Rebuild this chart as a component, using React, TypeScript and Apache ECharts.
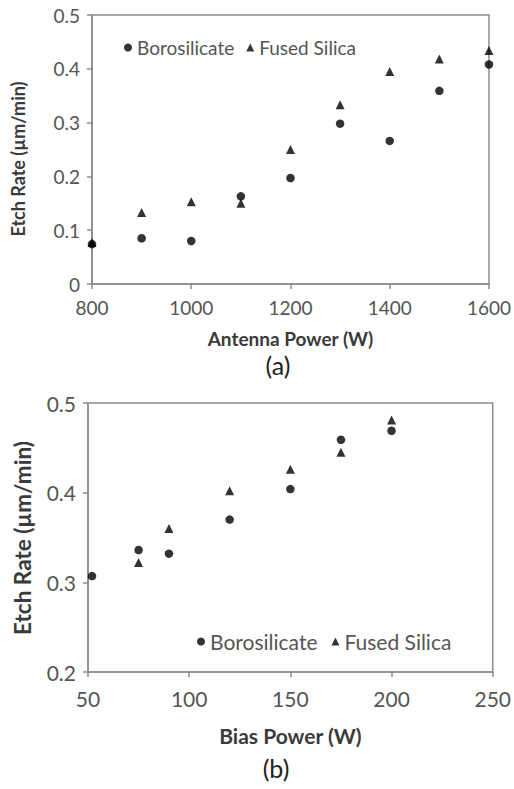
import React, { useEffect, useRef } from "react";
import * as echarts from "echarts";

// Panel (a): Antenna power sweep
const antennaPower = [800, 900, 1000, 1100, 1200, 1300, 1400, 1500, 1600];
const antennaBoro = [0.074, 0.085, 0.080, 0.163, 0.197, 0.298, 0.266, 0.359, 0.408];
const antennaFused = [0.077, 0.133, 0.153, 0.150, 0.250, 0.333, 0.395, 0.418, 0.434];

// Panel (b): Bias power sweep
const biasPowerBoro = [52, 75, 90, 120, 150, 175, 200];
const biasBoro = [0.307, 0.336, 0.332, 0.370, 0.404, 0.459, 0.469];
const biasPowerFused = [75, 90, 120, 150, 175, 200];
const biasFused = [0.322, 0.360, 0.402, 0.426, 0.445, 0.481];

const yTitle = "Etch Rate (µm/min)";

const FONT = "Lato";
const TXT = "#555555";
const TITLE = "#3a3a3a";
const AX = "#8c8c8c";

const pairs = (xs: number[], ys: number[]) => xs.map((x, i) => [x, ys[i]]);

export default function App() {
  const ref = useRef<HTMLDivElement>(null);
  useEffect(() => {
    const chart = echarts.init(ref.current!, undefined, { renderer: "svg" });
    const axisCommon = {
      axisLine: { show: true, lineStyle: { color: AX, width: 1.5 } },
      axisTick: { show: true, inside: false, length: 5, lineStyle: { color: AX, width: 1.5 } },
      splitLine: { show: false },
      nameLocation: "middle" as const,
    };
    const label = (fs: number, margin: number, digits?: number) => ({
      color: TXT, fontFamily: FONT, fontSize: fs, margin,
      formatter: (v: number) => (digits === undefined ? String(v) : v.toFixed(digits)),
    });
    const nameStyle = (fs: number) => ({ color: TITLE, fontFamily: FONT, fontSize: fs, fontWeight: "bold" });
    chart.setOption({
      animation: false,
      grid: [
        { left: 92, top: 15, width: 397, height: 269, show: true, borderColor: AX, borderWidth: 1.5, backgroundColor: "transparent" },
        { left: 88, top: 403, width: 409, height: 269, show: true, borderColor: AX, borderWidth: 1.5, backgroundColor: "transparent" },
      ],
      xAxis: [
        { type: "value", gridIndex: 0, min: 800, max: 1600, interval: 200, name: "Antenna Power (W)", nameGap: 45, ...axisCommon, axisLabel: label(19, 14), nameTextStyle: nameStyle(19) },
        { type: "value", gridIndex: 1, min: 50, max: 250, interval: 50, name: "Bias Power (W)", nameGap: 53, ...axisCommon, axisLabel: label(21, 16), nameTextStyle: nameStyle(21) },
      ],
      yAxis: [
        { type: "value", gridIndex: 0, min: 0, max: 0.5, interval: 0.1, ...axisCommon, axisLabel: label(19, 12) },
        { type: "value", gridIndex: 1, min: 0.2, max: 0.5, interval: 0.1, ...axisCommon, axisLabel: label(21, 12, 1) },
      ],
      legend: [
        {
          left: 119, top: 33, itemWidth: 8, itemHeight: 8, itemGap: 12,
          textStyle: { color: TXT, fontFamily: FONT, fontSize: 19 },
          data: [{ name: "Borosilicate", icon: "circle" }, { name: "Fused Silica", icon: "triangle" }],
        },
        {
          left: 192, top: 626, itemWidth: 8, itemHeight: 8, itemGap: 14,
          textStyle: { color: TXT, fontFamily: FONT, fontSize: 21 },
          data: [{ name: "Borosilicate", icon: "circle" }, { name: "Fused Silica", icon: "triangle" }],
        },
      ],
      series: [
        { type: "scatter", name: "Borosilicate", xAxisIndex: 0, yAxisIndex: 0, symbol: "circle", symbolSize: 8.5, itemStyle: { color: "#000" }, data: pairs(antennaPower, antennaBoro) },
        { type: "scatter", name: "Fused Silica", xAxisIndex: 0, yAxisIndex: 0, symbol: "triangle", symbolSize: 9, itemStyle: { color: "#000" }, data: pairs(antennaPower, antennaFused) },
        { type: "scatter", name: "Borosilicate", xAxisIndex: 1, yAxisIndex: 1, symbol: "circle", symbolSize: 8.5, itemStyle: { color: "#000" }, data: pairs(biasPowerBoro, biasBoro) },
        { type: "scatter", name: "Fused Silica", xAxisIndex: 1, yAxisIndex: 1, symbol: "triangle", symbolSize: 9, itemStyle: { color: "#000" }, data: pairs(biasPowerFused, biasFused) },
      ],
      graphic: [
        { type: "text", x: 18, y: 159, rotation: Math.PI / 2, style: { text: yTitle, fontFamily: FONT, fontSize: 18, fontWeight: "bold", fill: TITLE, align: "center", verticalAlign: "middle" } },
        { type: "text", x: 22, y: 538, rotation: Math.PI / 2, style: { text: yTitle, fontFamily: FONT, fontSize: 22.5, fontWeight: "bold", fill: TITLE, align: "center", verticalAlign: "middle" } },
        { type: "text", x: 278, y: 365, style: { text: "(a)", fontFamily: FONT, fontSize: 25, fill: "#222", align: "center", verticalAlign: "middle" } },
        { type: "text", x: 276, y: 768, style: { text: "(b)", fontFamily: FONT, fontSize: 25, fill: "#222", align: "center", verticalAlign: "middle" } },
      ],
    });
    return () => chart.dispose();
  }, []);
  return <div ref={ref} style={{ position: "fixed", left: 0, top: 0, width: 514, height: 789, background: "#fff" }} />;
}
